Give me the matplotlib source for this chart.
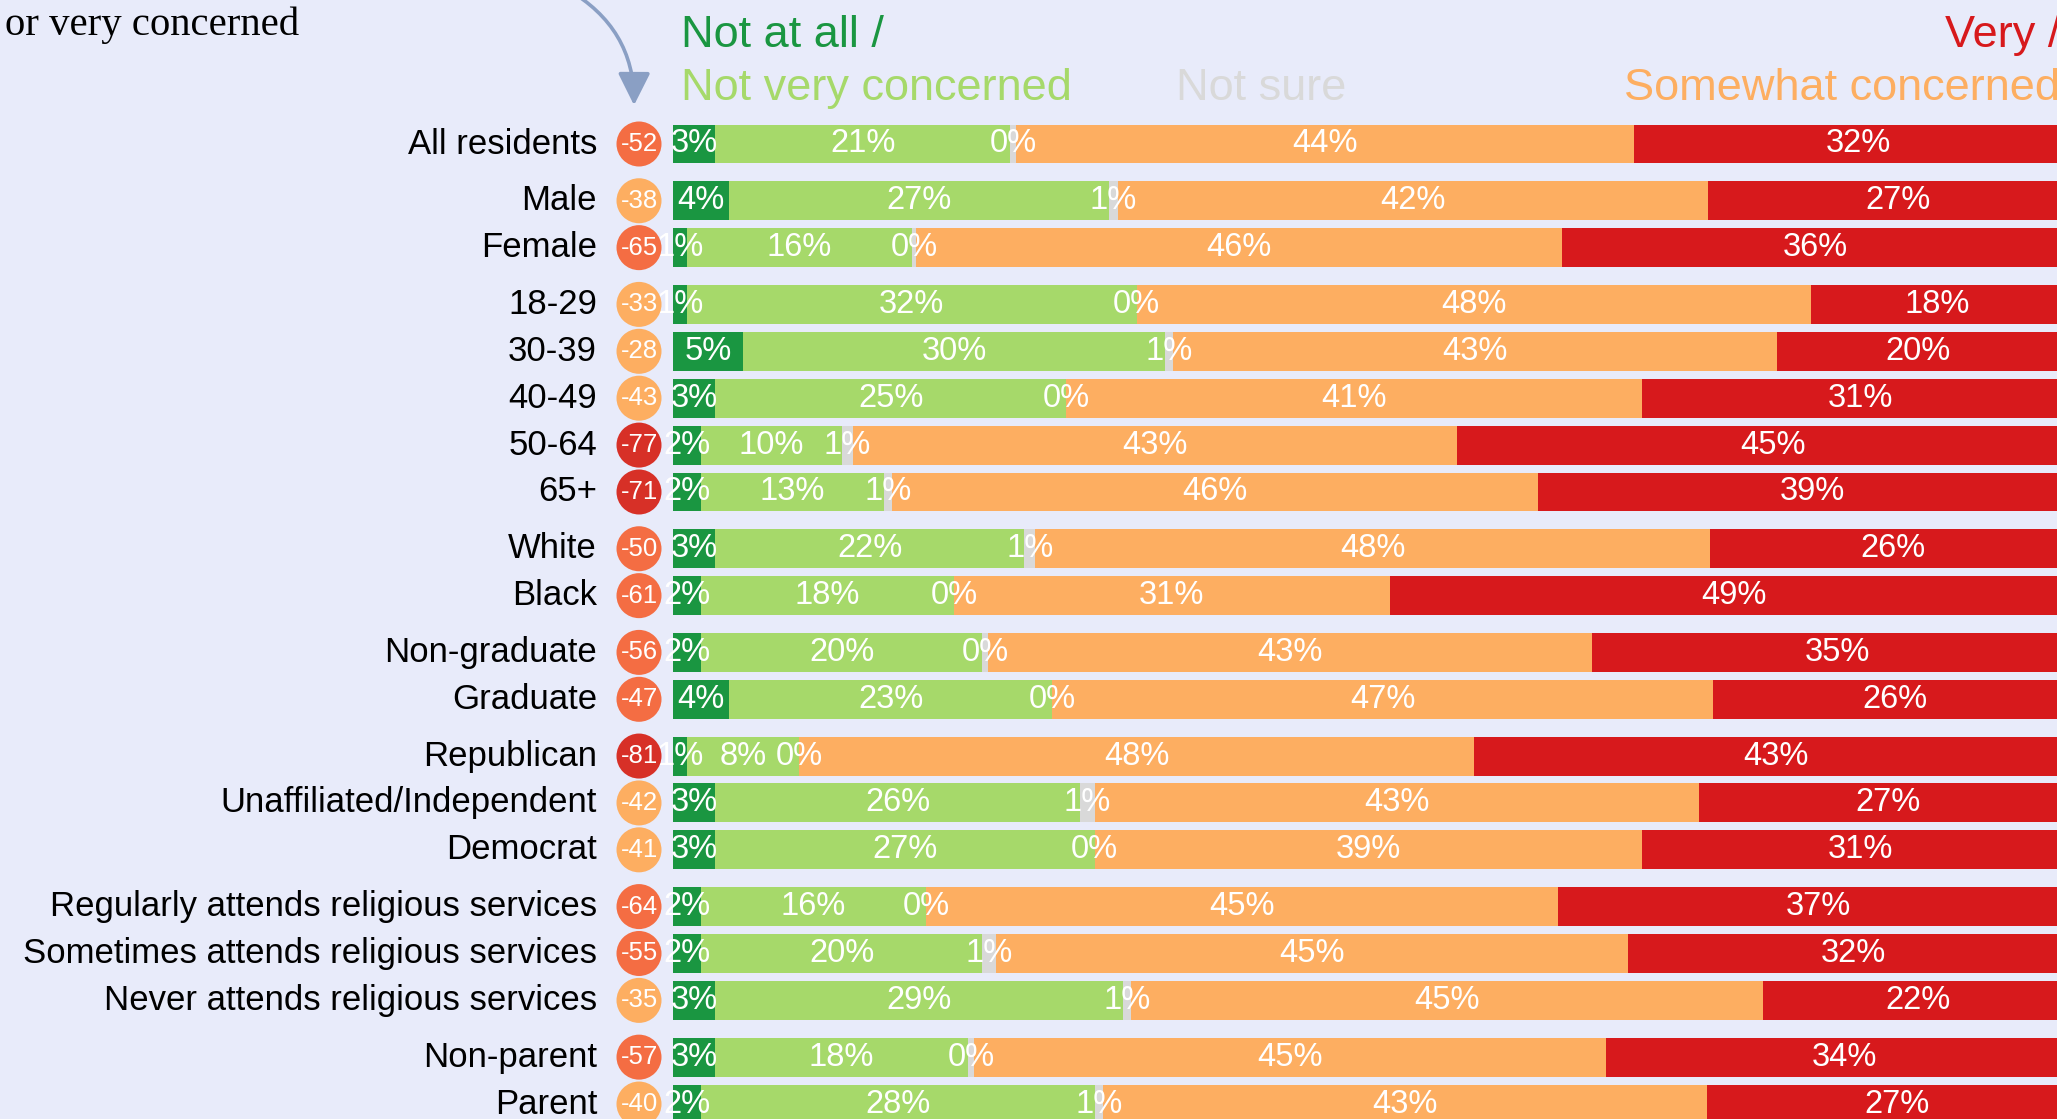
import matplotlib
matplotlib.use("Agg")
import matplotlib.pyplot as plt
from matplotlib.patches import FancyArrowPatch
from matplotlib import font_manager

plt.rcParams['font.family'] = ['Liberation Sans', 'DejaVu Sans']

# ---------------- data ----------------
categories = ["All residents", "Male", "Female", "18-29", "30-39", "40-49", "50-64", "65+",
              "White", "Black", "Non-graduate", "Graduate", "Republican",
              "Unaffiliated/Independent", "Democrat",
              "Regularly attends religious services", "Sometimes attends religious services",
              "Never attends religious services", "Non-parent", "Parent"]
group_sizes = [1, 2, 5, 2, 2, 3, 3, 2]

not_at_all = [3, 4, 1, 1, 5, 3, 2, 2, 3, 2, 2, 4, 1, 3, 3, 2, 2, 3, 3, 2]
not_very = [21, 27, 16, 32, 30, 25, 10, 13, 22, 18, 20, 23, 8, 26, 27, 16, 20, 29, 18, 28]
not_sure = [0.4, 0.7, 0.3, 0.0, 0.6, 0.0, 0.8, 0.6, 0.8, 0.0, 0.4, 0.0, 0.0, 1.0, 0.0, 0.0, 1.0, 0.6, 0.4, 0.6]
somewhat = [44, 42, 46, 48, 43, 41, 43, 46, 48, 31, 43, 47, 48, 43, 39, 45, 45, 45, 45, 43]
very = [32, 27, 36, 18, 20, 31, 45, 39, 26, 49, 35, 26, 43, 27, 31, 37, 32, 22, 34, 27]
net = [-52, -38, -65, -33, -28, -43, -77, -71, -50, -61, -56, -47, -81, -42, -41, -64, -55, -35, -57, -40]

series = [not_at_all, not_very, not_sure, somewhat, very]
seg_colors = ["#1a9641", "#a6d96a", "#d9d9d9", "#fdae61", "#d7191c"]
header_labels = ["Not at all /", "Not very concerned", "Not sure", "Somewhat concerned", "Very /"]

BG = "#e8ebfa"

# narrow font for the circle numbers, if available
_names = {f.name for f in font_manager.fontManager.ttflist}
narrow = ["Liberation Sans Narrow"] if "Liberation Sans Narrow" in _names else []
circle_family = narrow + ["Liberation Sans", "DejaVu Sans"]
circle_size = 20 if narrow else 18.5

# ---------------- layout ----------------
W, H = 2057, 1119
DPI = 100
fig = plt.figure(figsize=(W / DPI, H / DPI), dpi=DPI, facecolor=BG)
ax = fig.add_axes([0, 0, 1, 1])
ax.set_facecolor(BG)

px_per_unit = 14.05      # pixels per percentage point
x0_px = 673              # pixel where 0% is
row_px = 46.9            # pixel pitch between rows
first_row_px = 144.0
group_gap = 0.21

ax.set_xlim(-x0_px / px_per_unit, (W - x0_px) / px_per_unit)
ax.set_ylim((H - first_row_px) / row_px, -first_row_px / row_px)
ax.axis("off")

# y positions with extra gaps between groups
ypos = []
y = 0.0
for gi, gs in enumerate(group_sizes):
    for k in range(gs):
        ypos.append(y)
        y += 1
    y += group_gap

bar_h = 0.83
n = len(categories)
lefts = [0.0] * n
for vals, col in zip(series, seg_colors):
    ax.barh(ypos, vals, left=lefts, height=bar_h, color=col, edgecolor="none", zorder=2)
    for i in range(n):
        cx = lefts[i] + vals[i] / 2
        ax.text(cx, ypos[i], f"{vals[i]:.0f}%", ha="center", va="center",
                color="white", fontsize=23.5, zorder=4)
    lefts = [l + v for l, v in zip(lefts, vals)]

# net score circles
def circle_color(v):
    if v <= -70:
        return "#d73027"
    if v <= -45:
        return "#f46d43"
    return "#fdae61"

circ_x = (639 - x0_px) / px_per_unit
ax.scatter([circ_x] * n, ypos, s=(45 * 72 / DPI) ** 2,
           c=[circle_color(v) for v in net], edgecolors="none", zorder=5)
for i in range(n):
    ax.text(circ_x, ypos[i], f"{net[i]}", ha="center", va="center",
            color="white", fontsize=circle_size, family=circle_family, zorder=6)

# category labels
lab_x = (597 - x0_px) / px_per_unit
for i in range(n):
    ax.text(lab_x, ypos[i], categories[i], ha="right", va="center",
            color="black", fontsize=25, zorder=6)

# headers (pixel positions -> figure fraction)
def ftext(xp, yp_base, s, color, size, **kw):
    fig.text(xp / W, 1 - yp_base / H, s, color=color, fontsize=size,
             ha="left", va="baseline", **kw)

HS = 32.5
ftext(681, 47, header_labels[0], seg_colors[0], HS)
ftext(681, 100, header_labels[1], seg_colors[1], HS)
ftext(1176, 100, header_labels[2], seg_colors[2], HS)
ftext(1624, 100, header_labels[3], seg_colors[3], HS)
ftext(1945, 47, header_labels[4], seg_colors[4], HS)

# annotation text (serif)
fig.text(5 / W, 1 - 35 / H, "or very concerned", color="black", fontsize=29.3,
         family=["Liberation Serif", "DejaVu Serif"], ha="left", va="baseline")

# curved arrow
arrow = FancyArrowPatch(posA=(565 / W, 1 + 12 / H), posB=(634 / W, 1 - 108 / H),
                        transform=fig.transFigure, connectionstyle="arc3,rad=-0.3",
                        arrowstyle="-|>,head_length=0.9,head_width=0.45",
                        mutation_scale=22, lw=2.6, color="#8a9fc4", clip_on=False)
fig.patches.append(arrow)

fig.savefig("out.png", dpi=DPI, facecolor=BG)
